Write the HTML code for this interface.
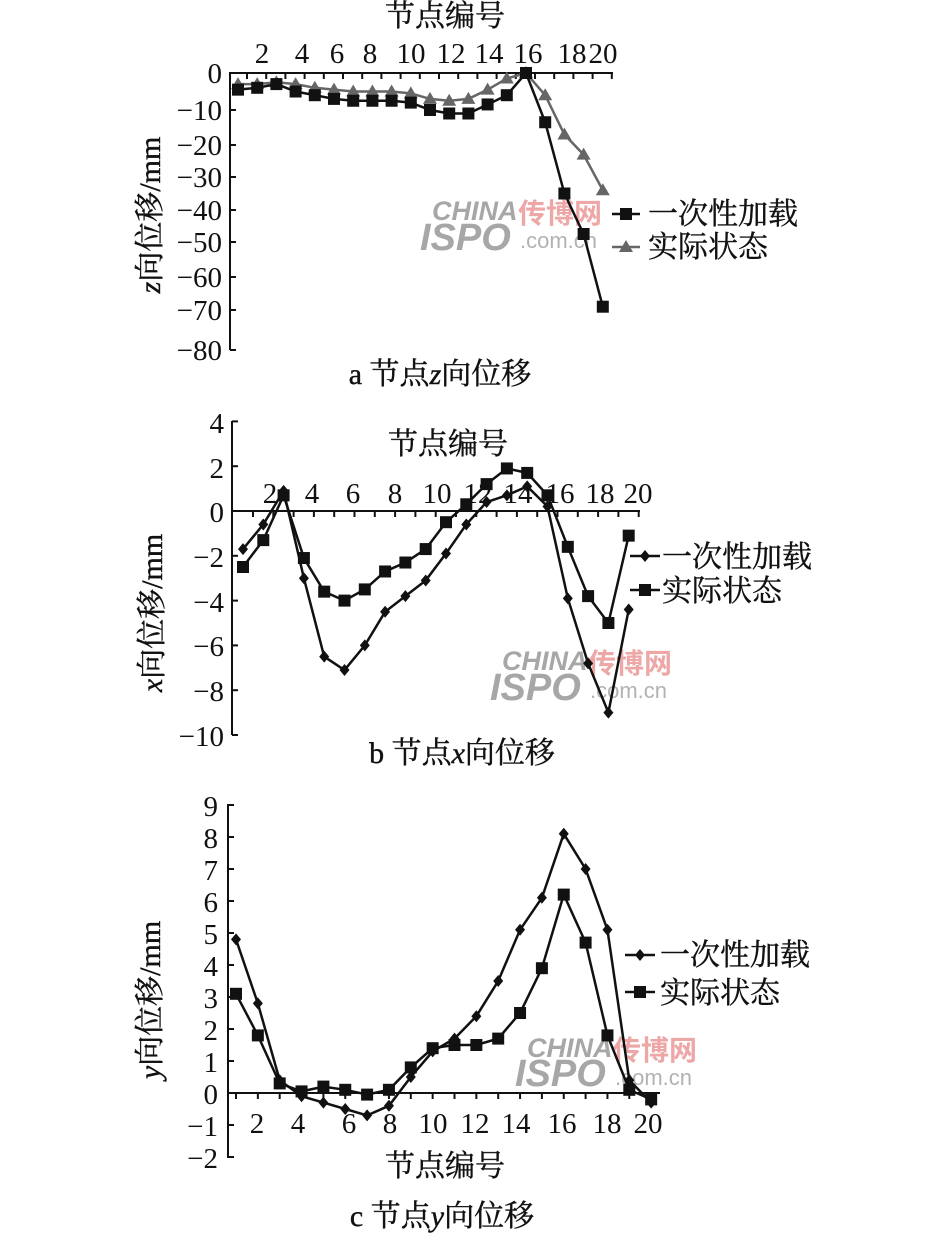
<!DOCTYPE html>
<html><head><meta charset="utf-8"><style>
body{margin:0;background:#fff;}
svg{display:block}
text{font-family:"Liberation Serif","Noto Serif CJK SC",serif;fill:#111}
.t{font-size:29px}
.c{font-family:"Liberation Serif","Noto Serif CJK SC","Noto Sans CJK SC",serif;font-size:30px;stroke:#111;stroke-width:0.4}
.wm{font-family:"Liberation Sans",sans-serif;font-weight:bold;font-style:italic;fill:#8a8a8a}
.wr{font-family:"Noto Sans CJK SC",sans-serif;font-weight:bold;fill:#e88a8a}
.wd{font-family:"Liberation Sans",sans-serif;fill:#999}
</style></head><body>
<svg id="s" width="945" height="1249" xmlns="http://www.w3.org/2000/svg">
<g stroke="#111" stroke-width="2" fill="none" id="axes"></g>
<!-- watermarks -->
<g opacity="0.75">
<text class="wm" x="432" y="220" font-size="27">CHINA</text>
<text class="wm" x="420" y="250" font-size="38">ISPO</text>
<text class="wr" x="518" y="223" font-size="28">传博网</text>
<text class="wd" x="520" y="248" font-size="22">.com.cn</text>
<text class="wm" x="502" y="670" font-size="27">CHINA</text>
<text class="wm" x="490" y="700" font-size="38">ISPO</text>
<text class="wr" x="588" y="673" font-size="28">传博网</text>
<text class="wd" x="590" y="698" font-size="22">.com.cn</text>
<text class="wm" x="527" y="1057" font-size="27">CHINA</text>
<text class="wm" x="515" y="1086" font-size="38">ISPO</text>
<text class="wr" x="613" y="1060" font-size="28">传博网</text>
<text class="wd" x="615" y="1085" font-size="22">.com.cn</text>
</g>
<!-- Chart a texts -->
<text class="c" x="445" y="26" text-anchor="middle">节点编号</text>
<g class="t" text-anchor="middle">
<text x="262" y="63">2</text><text x="302" y="63">4</text><text x="337" y="63">6</text><text x="370" y="63">8</text><text x="411" y="63">10</text><text x="451" y="63">12</text><text x="489" y="63">14</text><text x="528" y="63">16</text><text x="572" y="63">18</text><text x="603" y="63">20</text>
</g>
<g class="t" text-anchor="end">
<text x="222" y="83">0</text><text x="222" y="120">−10</text><text x="222" y="155">−20</text><text x="222" y="187">−30</text><text x="222" y="220">−40</text><text x="222" y="252">−50</text><text x="222" y="287">−60</text><text x="222" y="320">−70</text><text x="222" y="360">−80</text>
</g>
<text class="c" transform="translate(160,215) rotate(-90)" text-anchor="middle"><tspan font-style="italic">z</tspan>向位移/mm</text>
<text class="c" x="648" y="224">一次性加载</text>
<text class="c" x="648" y="257">实际状态</text>
<text class="c" x="440" y="384" text-anchor="middle">a  节点<tspan font-style="italic">z</tspan>向位移</text>
<!-- Chart b texts -->
<text class="c" x="448" y="454" text-anchor="middle">节点编号</text>
<g class="t" text-anchor="middle">
<text x="270" y="503">2</text><text x="312" y="503">4</text><text x="353" y="503">6</text><text x="395" y="503">8</text><text x="437" y="503">10</text><text x="478" y="503">12</text><text x="518" y="503">14</text><text x="560" y="503">16</text><text x="600" y="503">18</text><text x="638" y="503">20</text>
</g>
<g class="t" text-anchor="end">
<text x="224" y="433">4</text><text x="224" y="478">2</text><text x="224" y="522">0</text><text x="224" y="567">−2</text><text x="224" y="612">−4</text><text x="224" y="656">−6</text><text x="224" y="701">−8</text><text x="224" y="746">−10</text>
</g>
<text class="c" transform="translate(162,613) rotate(-90)" text-anchor="middle"><tspan font-style="italic">x</tspan>向位移/mm</text>
<text class="c" x="662" y="567">一次性加载</text>
<text class="c" x="662" y="601">实际状态</text>
<text class="c" x="462" y="763" text-anchor="middle">b  节点<tspan font-style="italic">x</tspan>向位移</text>
<!-- Chart c texts -->
<g class="t" text-anchor="middle">
<text x="257" y="1133">2</text><text x="298" y="1133">4</text><text x="349" y="1133">6</text><text x="390" y="1133">8</text><text x="433" y="1133">10</text><text x="475" y="1133">12</text><text x="516" y="1133">14</text><text x="562" y="1133">16</text><text x="607" y="1133">18</text><text x="648" y="1133">20</text>
</g>
<g class="t" text-anchor="end">
<text x="218" y="816">9</text><text x="218" y="848">8</text><text x="218" y="880">7</text><text x="218" y="912">6</text><text x="218" y="944">5</text><text x="218" y="976">4</text><text x="218" y="1008">3</text><text x="218" y="1040">2</text><text x="218" y="1072">1</text><text x="218" y="1104">0</text><text x="218" y="1136">−1</text><text x="218" y="1168">−2</text>
</g>
<text class="c" transform="translate(160,1000) rotate(-90)" text-anchor="middle"><tspan font-style="italic">y</tspan>向位移/mm</text>
<text class="c" x="445" y="1176" text-anchor="middle">节点编号</text>
<text class="c" x="660" y="965">一次性加载</text>
<text class="c" x="660" y="1003">实际状态</text>
<text class="c" x="442" y="1226" text-anchor="middle">c  节点<tspan font-style="italic">y</tspan>向位移</text>
<g id="data"></g>
</svg>
<script>
var NS="http://www.w3.org/2000/svg";
var ax=document.getElementById('axes'),dg=document.getElementById('data');
function el(p,t,a){var e=document.createElementNS(NS,t);for(var k in a)e.setAttribute(k,a[k]);p.appendChild(e);return e;}
function line(p,x1,y1,x2,y2,c,w){el(p,'line',{x1:x1,y1:y1,x2:x2,y2:y2,stroke:c||'#111','stroke-width':w||2});}
function marker(p,t,x,y,c){
 if(t=='sq')el(p,'rect',{x:x-6,y:y-6,width:12,height:12,fill:c});
 else if(t=='tri')el(p,'polygon',{points:(x)+','+(y-7)+' '+(x-7)+','+(y+5)+' '+(x+7)+','+(y+5),fill:c});
 else el(p,'polygon',{points:x+','+(y-6)+' '+(x+5)+','+y+' '+x+','+(y+6)+' '+(x-5)+','+y,fill:c});
}
function series(vals,x0,dx,yf,t,c,w){
 var pts=vals.map(function(v,i){return [x0+i*dx,yf(v)];});
 el(dg,'polyline',{points:pts.map(function(p){return p.join(',')}).join(' '),fill:'none',stroke:c,'stroke-width':w||2.5});
 pts.forEach(function(p){marker(dg,t,p[0],p[1],c);});
}
function legend(y,t,c,x1,x2){line(dg,x1,y,x2,y,c,2.5);marker(dg,t,(x1+x2)/2,y,c);}
var ya=[[0,73],[-10,110],[-20,145],[-30,177],[-40,210],[-50,242],[-60,277],[-70,310],[-80,350]];
function fa(v){for(var i=0;i<ya.length-1;i++){if(v>=ya[i+1][0]){var a=ya[i],b=ya[i+1];return a[1]+(v-a[0])/(b[0]-a[0])*(b[1]-a[1]);}}return 350;}
line(ax,230,72,230,350);line(ax,230,73,613,73);
for(var i=0;i<9;i++)line(ax,230,ya[i][1],236,ya[i][1]);
for(var i=0;i<20;i++){var x=247+i*19.2;line(ax,x,73,x,79);}
series([-3,-3,-2.5,-3,-4,-4.5,-5,-5,-5,-5.5,-7,-7.5,-7,-4.5,-1.5,0,-6,-17,-23,-34],238,19.2,fa,'tri','#666',2.5);
series([-4.5,-4,-3,-5,-6,-7,-7.5,-7.5,-7.5,-8,-10,-11,-11,-8.5,-6,0,-13.5,-35,-47.5,-69],238,19.2,fa,'sq','#111',2.5);
legend(214,'sq','#111',612,640);legend(247,'tri','#666',612,640);
function fb(v){return 511-v*22.4;}
line(ax,232,421,232,735);line(ax,232,511,640,511);
for(var v=4;v>=-10;v-=2)line(ax,232,fb(v),238,fb(v));
for(var i=0;i<20;i++){var x=253+i*20.3;line(ax,x,511,x,517);}
series([-1.7,-0.6,0.9,-3,-6.5,-7.1,-6,-4.5,-3.8,-3.1,-1.9,-0.6,0.4,0.7,1.1,0.2,-3.9,-6.8,-9,-4.4],243,20.3,fb,'dia','#111',2.5);
series([-2.5,-1.3,0.7,-2.1,-3.6,-4,-3.5,-2.7,-2.3,-1.7,-0.5,0.3,1.2,1.9,1.7,0.7,-1.6,-3.8,-5,-1.1],243,20.3,fb,'sq','#111',2.5);
legend(556,'dia','#111',630,660);legend(590,'sq','#111',630,660);
function fc(v){return 1093-v*32;}
line(ax,228,804,228,1158);line(ax,228,1093,660,1093);
for(var v=9;v>=-2;v--)line(ax,228,fc(v),234,fc(v));
for(var i=0;i<20;i++){var x=236+i*21.85;line(ax,x,1093,x,1099);}
series([4.8,2.8,0.4,-0.1,-0.3,-0.5,-0.7,-0.4,0.5,1.3,1.7,2.4,3.5,5.1,6.1,8.1,7,5.1,0.4,-0.3],236,21.85,fc,'dia','#111',2.5);
series([3.1,1.8,0.3,0.05,0.2,0.1,-0.05,0.1,0.8,1.4,1.5,1.5,1.7,2.5,3.9,6.2,4.7,1.8,0.1,-0.2],236,21.85,fc,'sq','#111',2.5);
legend(955,'dia','#111',625,655);legend(992,'sq','#111',625,655);
</script>
</body></html>
